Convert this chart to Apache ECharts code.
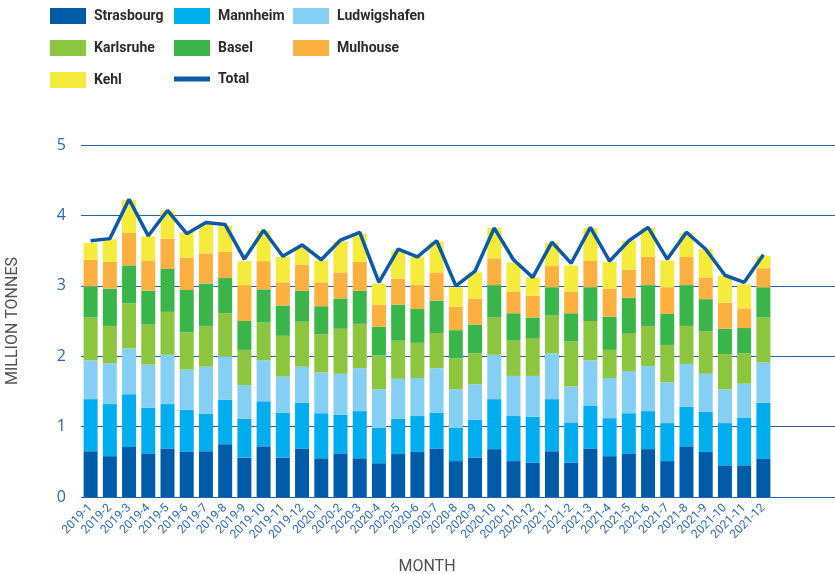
<!DOCTYPE html>
<html>
<head>
<meta charset="utf-8">
<script src="https://cdn.jsdelivr.net/npm/echarts@6/dist/echarts.min.js"></script>
<style>
  html, body { margin: 0; padding: 0; background: #fff; }
  #chart { width: 835px; height: 574px; }
</style>
</head>
<body>
<div id="chart"></div>
<script>
const months = [
  '2019-1', '2019-2', '2019-3', '2019-4', '2019-5', '2019-6', '2019-7', '2019-8', '2019-9', '2019-10', '2019-11', '2019-12',
  '2020-1', '2020-2', '2020-3', '2020-4', '2020-5', '2020-6', '2020-7', '2020-8', '2020-9', '2020-10', '2020-11', '2020-12',
  '2021-1', '2021-2', '2021-3', '2021-4', '2021-5', '2021-6', '2021-7', '2021-8', '2021-9', '2021-10', '2021-11', '2021-12'
];

// million tonnes
const strasbourg   = [0.65, 0.58, 0.71, 0.62, 0.69, 0.64, 0.65, 0.75, 0.56, 0.72, 0.56, 0.69, 0.55, 0.62, 0.55, 0.48, 0.61, 0.64, 0.69, 0.51, 0.56, 0.68, 0.51, 0.49, 0.65, 0.49, 0.69, 0.58, 0.62, 0.68, 0.51, 0.72, 0.64, 0.45, 0.45, 0.54];
const mannheim     = [0.74, 0.74, 0.75, 0.65, 0.63, 0.60, 0.53, 0.63, 0.55, 0.64, 0.64, 0.65, 0.64, 0.55, 0.67, 0.50, 0.50, 0.51, 0.51, 0.47, 0.54, 0.71, 0.64, 0.65, 0.74, 0.57, 0.61, 0.54, 0.57, 0.54, 0.54, 0.56, 0.57, 0.60, 0.68, 0.80];
const ludwigshafen = [0.55, 0.58, 0.65, 0.61, 0.70, 0.57, 0.67, 0.62, 0.48, 0.58, 0.51, 0.51, 0.58, 0.58, 0.61, 0.55, 0.57, 0.54, 0.63, 0.55, 0.50, 0.63, 0.57, 0.58, 0.65, 0.51, 0.64, 0.57, 0.60, 0.64, 0.58, 0.61, 0.54, 0.48, 0.48, 0.57];
const karlsruhe    = [0.61, 0.53, 0.64, 0.57, 0.61, 0.53, 0.58, 0.61, 0.50, 0.54, 0.58, 0.64, 0.54, 0.64, 0.63, 0.48, 0.54, 0.50, 0.50, 0.44, 0.44, 0.53, 0.51, 0.53, 0.54, 0.64, 0.56, 0.40, 0.53, 0.57, 0.53, 0.54, 0.60, 0.50, 0.43, 0.64];
const basel        = [0.44, 0.53, 0.54, 0.48, 0.61, 0.60, 0.60, 0.50, 0.41, 0.47, 0.43, 0.44, 0.40, 0.43, 0.47, 0.41, 0.51, 0.48, 0.46, 0.40, 0.41, 0.46, 0.38, 0.30, 0.40, 0.40, 0.48, 0.47, 0.51, 0.58, 0.44, 0.58, 0.46, 0.36, 0.36, 0.43];
const mulhouse     = [0.38, 0.38, 0.46, 0.43, 0.43, 0.46, 0.43, 0.37, 0.51, 0.40, 0.33, 0.37, 0.34, 0.37, 0.41, 0.31, 0.37, 0.34, 0.40, 0.33, 0.37, 0.38, 0.31, 0.31, 0.30, 0.31, 0.38, 0.40, 0.40, 0.40, 0.38, 0.40, 0.31, 0.37, 0.28, 0.27];
const kehl         = [0.24, 0.32, 0.47, 0.34, 0.40, 0.36, 0.43, 0.37, 0.34, 0.43, 0.36, 0.26, 0.31, 0.44, 0.40, 0.30, 0.40, 0.40, 0.44, 0.28, 0.37, 0.43, 0.41, 0.26, 0.33, 0.37, 0.46, 0.38, 0.41, 0.41, 0.38, 0.34, 0.40, 0.38, 0.34, 0.17];
const total        = [3.64, 3.67, 4.23, 3.71, 4.07, 3.74, 3.90, 3.87, 3.38, 3.79, 3.42, 3.58, 3.37, 3.65, 3.76, 3.05, 3.52, 3.41, 3.64, 3.00, 3.21, 3.82, 3.37, 3.12, 3.62, 3.32, 3.83, 3.35, 3.64, 3.83, 3.38, 3.76, 3.52, 3.15, 3.05, 3.44];

const yTicks = [0, 1, 2, 3, 4, 5];

const ports = [
  { name: 'Strasbourg',   data: strasbourg,   color: '#005ba9' },
  { name: 'Mannheim',     data: mannheim,     color: '#00adee' },
  { name: 'Ludwigshafen', data: ludwigshafen, color: '#85cff4' },
  { name: 'Karlsruhe',    data: karlsruhe,    color: '#8cc63f' },
  { name: 'Basel',        data: basel,        color: '#39b54a' },
  { name: 'Mulhouse',     data: mulhouse,     color: '#fbb040' },
  { name: 'Kehl',         data: kehl,         color: '#f4eb3b' }
];

const labelFont = 'Roboto, sans-serif';
const blue = '#2a6bb5';
const lineBlue = '#0a5aa8';

// one legend per item so the three columns line up like the original
const legendSpots = [
  ['Strasbourg', 50, 8], ['Mannheim', 174, 8], ['Ludwigshafen', 293, 8],
  ['Karlsruhe', 50, 40], ['Basel', 174, 40], ['Mulhouse', 293, 40],
  ['Kehl', 50, 72], ['Total', 174, 72]
];
const legends = legendSpots.map(([name, x, y]) => ({
  data: [name],
  left: x,
  top: y,
  padding: 0,
  itemWidth: 36,
  itemHeight: name === 'Total' ? 5 : 16,
  icon: 'rect',
  selectedMode: false,
  textStyle: {
    fontFamily: labelFont,
    fontWeight: 'bold',
    fontSize: 14,
    color: '#2b2b2b',
    padding: [0, 0, 0, 3]
  }
}));

let myChart = echarts.init(document.getElementById('chart'));
let option = {
  animation: false,
  legend: legends,
  grid: [
    { left: 81, right: 0, top: 145, bottom: 77, outerBoundsMode: 'none', containLabel: false },
    { left: 81, right: 62, top: 145, bottom: 77, outerBoundsMode: 'none', containLabel: false }
  ],
  xAxis: [
    { gridIndex: 0, type: 'value', show: false, min: 0, max: 1 },
    {
      gridIndex: 1,
      type: 'category',
      data: months,
      name: 'MONTH',
      nameLocation: 'middle',
      nameGap: 62,
      nameTextStyle: { color: '#505050', fontSize: 16, fontFamily: 'Roboto' },
      axisLine: { show: false },
      axisTick: { show: false },
      axisLabel: {
        interval: 0,
        rotate: 45,
        margin: 9,
        color: blue,
        fontSize: 12,
        fontFamily: labelFont
      }
    }
  ],
  yAxis: [
    {
      gridIndex: 0,
      type: 'value',
      min: yTicks[0],
      max: yTicks[yTicks.length - 1],
      interval: 1,
      name: 'MILLION TONNES',
      nameLocation: 'middle',
      nameGap: 60,
      nameTextStyle: { color: '#505050', fontSize: 16, fontFamily: 'Roboto' },
      axisLine: { show: false },
      axisTick: { show: false },
      axisLabel: { color: blue, fontSize: 16, margin: 15, fontFamily: 'Open Sans' },
      splitLine: { lineStyle: { color: '#2563ab', width: 1 } }
    },
    { gridIndex: 1, type: 'value', min: 0, max: 5, show: false }
  ],
  series: [
    ...ports.map(p => ({
      name: p.name,
      type: 'bar',
      stack: 'ports',
      xAxisIndex: 1,
      yAxisIndex: 1,
      barWidth: 14,
      data: p.data,
      itemStyle: { color: p.color }
    })),
    {
      name: 'Total',
      type: 'line',
      xAxisIndex: 1,
      yAxisIndex: 1,
      data: total,
      symbol: 'none',
      z: 5,
      itemStyle: { color: lineBlue },
      lineStyle: { color: lineBlue, width: 3.5 }
    }
  ]
};
myChart.setOption(option);
</script>
</body>
</html>
